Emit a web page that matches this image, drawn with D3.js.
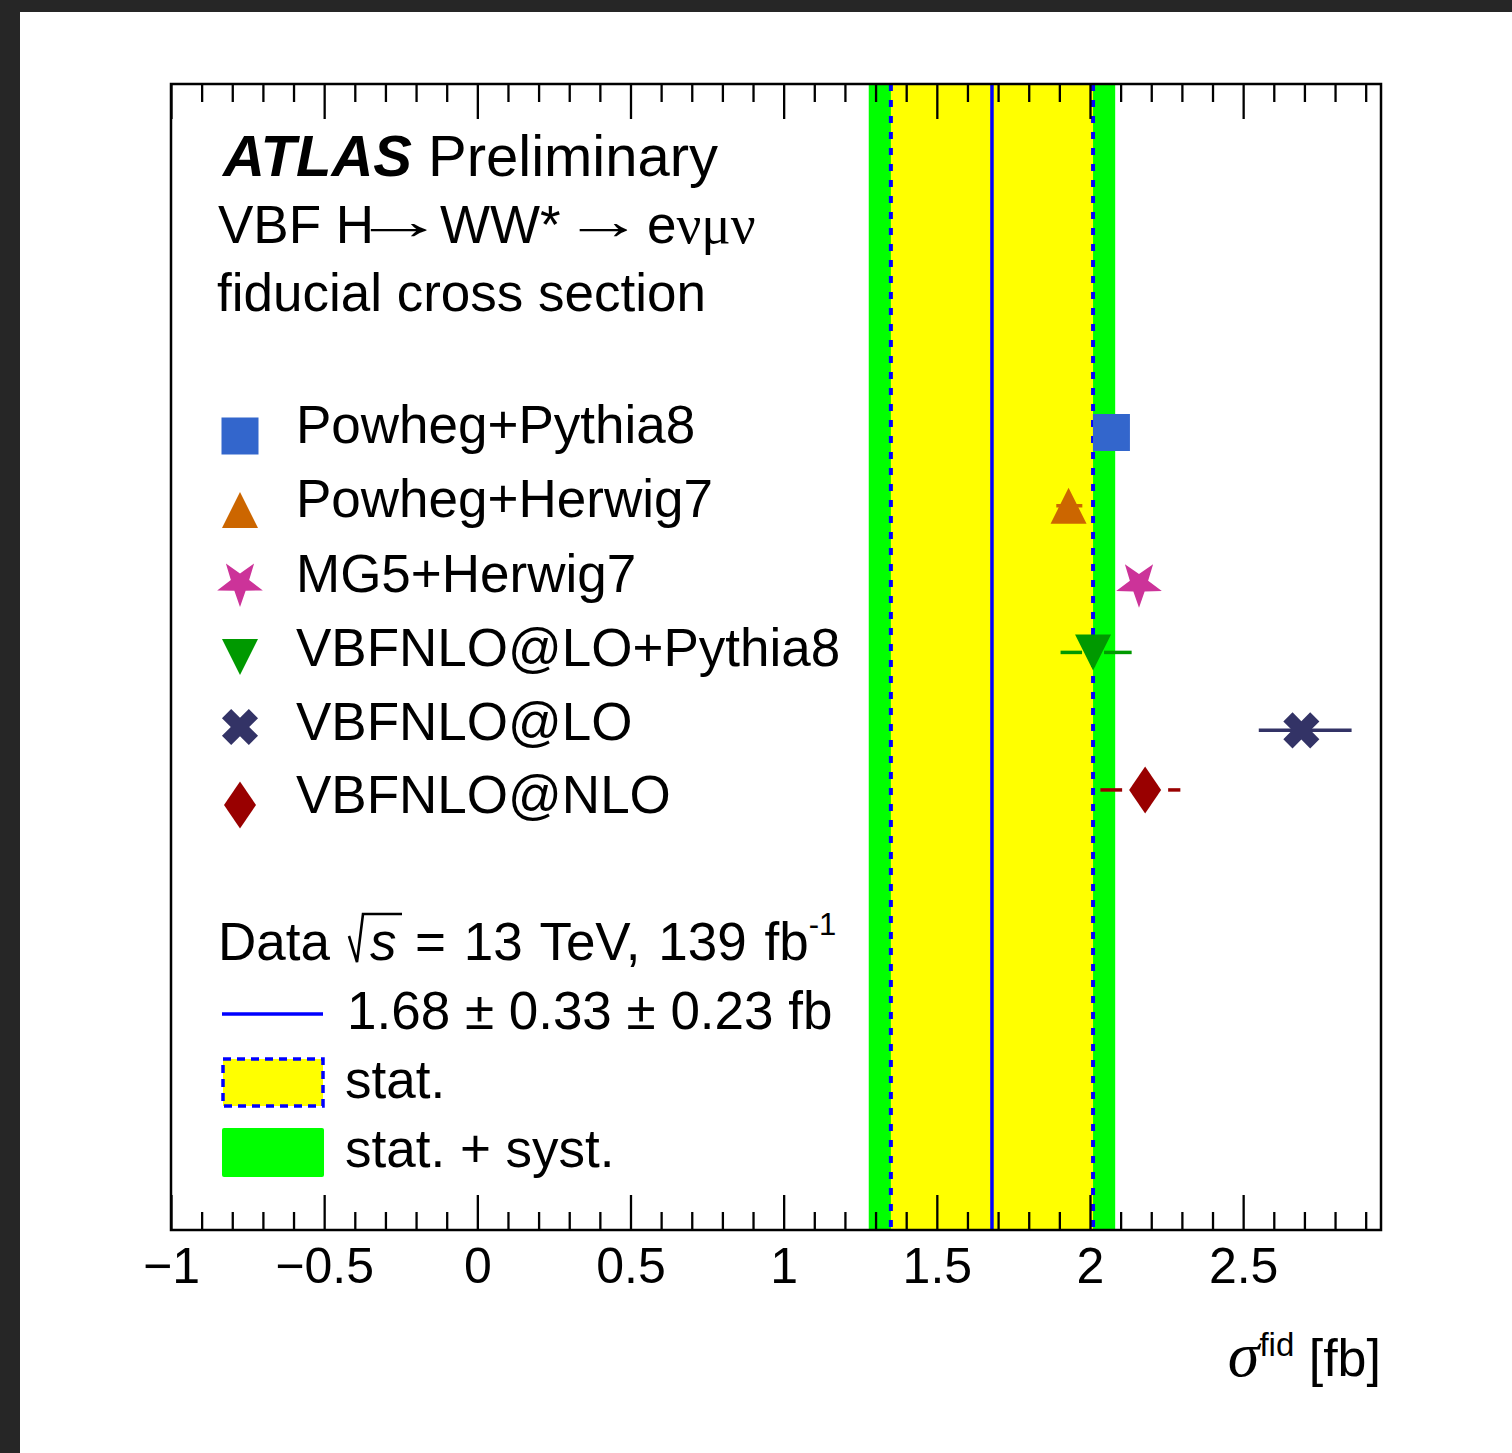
<!DOCTYPE html>
<html>
<head>
<meta charset="utf-8">
<script src="https://cdn.jsdelivr.net/npm/d3@7"></script>
<style>
  html, body { margin: 0; padding: 0; background: #ffffff; }
  svg { display: block; }
  text { font-family: "Liberation Sans", Arial, Helvetica, sans-serif; fill: #000; }
</style>
</head>
<body>
<svg id="chart" width="1512" height="1453"></svg>
<script>
// ---------------- data ----------------
const generators = ["Powheg+Pythia8", "Powheg+Herwig7", "MG5+Herwig7", "VBFNLO@LO+Pythia8", "VBFNLO@LO", "VBFNLO@NLO"];
const predValues = [2.07, 1.93, 2.16, 2.01, 2.69, 2.18];
const predErrLow = [0.03, 0.04, 0.03, 0.106, 0.139, 0.146];
const predErrHigh = [0.03, 0.045, 0.03, 0.126, 0.164, 0.115];
const predRowPos = [0.696, 0.632, 0.564, 0.504, 0.436, 0.384];   // vertical placement on the hidden y axis (0 = bottom, 1 = top)
const dataValue = [1.68];
const statError = [0.33];
const systError = [0.23];
const xMajorTicks = [-1, -0.5, 0, 0.5, 1, 1.5, 2, 2.5];
const xDomain = [-1, 2.95];

// ---------------- styles ----------------
const markerShapes = ["square", "triangleUp", "star", "triangleDown", "cross", "diamond"];
const markerColors = ["#3366cc", "#cc6600", "#cc3399", "#009900", "#333366", "#990000"];
const barGaps = [0, 0, 0, 11, 0, 23];

const svg = d3.select("#chart");
const W = 1512, H = 1453;
const plot = { left: 171, right: 1381, top: 84, bottom: 1230 };

// page background + dark viewer border
svg.append("rect").attr("x", 0).attr("y", 0).attr("width", W).attr("height", H).attr("fill", "#ffffff");
svg.append("rect").attr("x", 0).attr("y", 0).attr("width", W).attr("height", 12).attr("fill", "#262626");
svg.append("rect").attr("x", 0).attr("y", 0).attr("width", 20).attr("height", H).attr("fill", "#262626");

const x = d3.scaleLinear().domain(xDomain).range([plot.left, plot.right]);
const y = d3.scaleLinear().domain([0, 1]).range([plot.bottom, plot.top]);

// ---------------- bands ----------------
const total = Math.sqrt(statError[0] ** 2 + systError[0] ** 2);
svg.append("rect")
  .attr("x", x(dataValue[0] - total)).attr("y", plot.top)
  .attr("width", x(dataValue[0] + total) - x(dataValue[0] - total))
  .attr("height", plot.bottom - plot.top)
  .attr("fill", "#00ff00");
svg.append("rect")
  .attr("x", x(dataValue[0] - statError[0])).attr("y", plot.top)
  .attr("width", x(dataValue[0] + statError[0]) - x(dataValue[0] - statError[0]))
  .attr("height", plot.bottom - plot.top)
  .attr("fill", "#ffff00");
[dataValue[0] - statError[0], dataValue[0] + statError[0]].forEach(v => {
  svg.append("line")
    .attr("x1", x(v)).attr("x2", x(v)).attr("y1", plot.top).attr("y2", plot.bottom)
    .attr("stroke", "#0000ff").attr("stroke-width", 4).attr("stroke-dasharray", "7,9");
});
svg.append("line")
  .attr("x1", x(dataValue[0])).attr("x2", x(dataValue[0])).attr("y1", plot.top).attr("y2", plot.bottom)
  .attr("stroke", "#0000ff").attr("stroke-width", 3.5);

// ---------------- axes ----------------
const minorTicks = d3.range(-10, 30).filter(i => i % 5 !== 0).map(i => i / 10);
const fmt = d => (d < 0 ? "\u2212" + Math.abs(d) : String(d));

const gBottom = svg.append("g").attr("transform", `translate(0,${plot.bottom})`)
  .call(d3.axisBottom(x).tickValues(xMajorTicks).tickSize(-35).tickFormat(fmt));
gBottom.select(".domain").remove();
gBottom.selectAll(".tick line").attr("stroke", "#000").attr("stroke-width", 2.3);
gBottom.selectAll(".tick text")
  .attr("y", 53).attr("dy", 0)
  .style("font-family", "'Liberation Sans', Arial, sans-serif")
  .style("font-size", "50px").attr("fill", "#000");

const gBottomMinor = svg.append("g").attr("transform", `translate(0,${plot.bottom})`)
  .call(d3.axisBottom(x).tickValues(minorTicks).tickSize(-18).tickFormat(""));
gBottomMinor.select(".domain").remove();
gBottomMinor.selectAll(".tick line").attr("stroke", "#000").attr("stroke-width", 2.3);

const gTop = svg.append("g").attr("transform", `translate(0,${plot.top})`)
  .call(d3.axisTop(x).tickValues(xMajorTicks).tickSize(-35).tickFormat(""));
gTop.select(".domain").remove();
gTop.selectAll(".tick line").attr("stroke", "#000").attr("stroke-width", 2.3);

const gTopMinor = svg.append("g").attr("transform", `translate(0,${plot.top})`)
  .call(d3.axisTop(x).tickValues(minorTicks).tickSize(-18).tickFormat(""));
gTopMinor.select(".domain").remove();
gTopMinor.selectAll(".tick line").attr("stroke", "#000").attr("stroke-width", 2.3);

// frame
svg.append("rect")
  .attr("x", plot.left).attr("y", plot.top)
  .attr("width", plot.right - plot.left).attr("height", plot.bottom - plot.top)
  .attr("fill", "none").attr("stroke", "#000").attr("stroke-width", 2.5);

// ---------------- markers ----------------
function markerPath(shape, cx, cy) {
  const p = d3.path();
  if (shape === "square") {
    const h = 18.5;
    p.rect(cx - h, cy - h, 2 * h, 2 * h);
  } else if (shape === "triangleUp") {
    p.moveTo(cx, cy - 18); p.lineTo(cx + 18, cy + 18); p.lineTo(cx - 18, cy + 18); p.closePath();
  } else if (shape === "triangleDown") {
    p.moveTo(cx, cy + 18); p.lineTo(cx + 18, cy - 18); p.lineTo(cx - 18, cy - 18); p.closePath();
  } else if (shape === "star") {
    const R = 24, r = 9.6;
    for (let k = 0; k < 10; k++) {
      const a = Math.PI / 2 + k * Math.PI / 5;
      const rad = k % 2 === 0 ? R : r;
      const px = cx + rad * Math.cos(a), py = cy + rad * Math.sin(a);
      if (k === 0) p.moveTo(px, py); else p.lineTo(px, py);
    }
    p.closePath();
  } else if (shape === "cross") {
    const a = 19, t = 6.5;
    const pts = [[t, t], [a, t], [a, -t], [t, -t], [t, -a], [-t, -a], [-t, -t], [-a, -t], [-a, t], [-t, t], [-t, a], [t, a]];
    const c = Math.SQRT1_2;
    pts.forEach(([u, v], i) => {
      const px = cx + (u - v) * c, py = cy + (u + v) * c;
      if (i === 0) p.moveTo(px, py); else p.lineTo(px, py);
    });
    p.closePath();
  } else if (shape === "diamond") {
    p.moveTo(cx, cy - 23.5); p.lineTo(cx + 16, cy); p.lineTo(cx, cy + 23.5); p.lineTo(cx - 16, cy); p.closePath();
  }
  return p.toString();
}

const points = generators.map((g, i) => ({
  name: g, value: predValues[i], lo: predErrLow[i], hi: predErrHigh[i], row: predRowPos[i],
  shape: markerShapes[i], color: markerColors[i], gap: barGaps[i]
}));

const gPts = svg.append("g");
points.forEach(d => {
  const cx = x(d.value), cy = y(d.row);
  const lo = x(d.value - d.lo), hi = x(d.value + d.hi);
  if (cx - d.gap > lo) {
    gPts.append("line").attr("x1", lo).attr("x2", cx - d.gap).attr("y1", cy).attr("y2", cy)
      .attr("stroke", d.color).attr("stroke-width", 3.5);
  }
  if (cx + d.gap < hi) {
    gPts.append("line").attr("x1", cx + d.gap).attr("x2", hi).attr("y1", cy).attr("y2", cy)
      .attr("stroke", d.color).attr("stroke-width", 3.5);
  }
  gPts.append("path").attr("d", markerPath(d.shape, cx, cy)).attr("fill", d.color);
});

// ---------------- header text ----------------
const t1 = svg.append("text").attr("x", 223).attr("y", 176).style("font-size", "58px");
t1.append("tspan").text("ATLAS").style("font-weight", "bold").style("font-style", "italic");
t1.append("tspan").attr("x", 428).text("Preliminary");

const serif = "'Liberation Serif', 'DejaVu Serif', serif";
const t2 = svg.append("text").attr("y", 243).style("font-size", "53px");
t2.append("tspan").attr("x", 218).text("VBF H");
t2.append("tspan").attr("x", 440).text("WW*");
t2.append("tspan").attr("x", 647).text("e");
t2.append("tspan").style("font-family", serif).style("font-size", "55px").text("\u03bd\u03bc\u03bd");
// long thin arrows (symbol-font style), stretched horizontally to their printed width
[[352, 1.81], [563, 1.54]].forEach(([ax, sx]) => {
  svg.append("text").attr("x", 0).attr("y", 0)
    .attr("transform", `translate(${ax},239) scale(${sx},1)`)
    .style("font-family", serif).style("font-size", "52px").text("\u2192");
});

svg.append("text").attr("x", 217).attr("y", 311).style("font-size", "53px").text("fiducial cross section");

// ---------------- legend (predictions) ----------------
const legendTextY = [443, 517, 592, 666, 740, 813];
const legendMarkY = [436, 510, 583, 657, 727, 805];
points.forEach((d, i) => {
  svg.append("path").attr("d", markerPath(d.shape, 240, legendMarkY[i])).attr("fill", d.color);
  svg.append("text").attr("x", 296).attr("y", legendTextY[i]).style("font-size", "53px").text(d.name);
});

// ---------------- legend (data) ----------------
svg.append("text").attr("x", 218).attr("y", 960).style("font-size", "53px").text("Data");
svg.append("path").attr("d", "M349,936 L357,962 L363,914 L402,914")
  .attr("fill", "none").attr("stroke", "#000").attr("stroke-width", 2.6).attr("stroke-linejoin", "miter");
svg.append("text").attr("x", 370).attr("y", 960).style("font-size", "53px").style("font-style", "italic").text("s");
const tData = svg.append("text").attr("x", 415).attr("y", 960).style("font-size", "53px").style("word-spacing", "3px");
tData.append("tspan").text(`= 13 TeV, 139 fb`);
tData.append("tspan").attr("dy", -25).style("font-size", "31px").text("-1");

svg.append("line").attr("x1", 222).attr("x2", 323).attr("y1", 1014).attr("y2", 1014)
  .attr("stroke", "#0000ff").attr("stroke-width", 3.5);
svg.append("text").attr("x", 347).attr("y", 1029).style("font-size", "53px")
  .text(`${dataValue[0].toFixed(2)} \u00b1 ${statError[0].toFixed(2)} \u00b1 ${systError[0].toFixed(2)} fb`);

svg.append("rect").attr("x", 223).attr("y", 1059).attr("width", 100).attr("height", 47)
  .attr("fill", "#ffff00").attr("stroke", "#0000ff").attr("stroke-width", 3.5).attr("stroke-dasharray", "8,6");
svg.append("text").attr("x", 345).attr("y", 1098).style("font-size", "53px").text("stat.");

svg.append("rect").attr("x", 222).attr("y", 1128).attr("width", 102).attr("height", 49).attr("rx", 2)
  .attr("fill", "#00ff00");
svg.append("text").attr("x", 345).attr("y", 1167).style("font-size", "53px").text("stat. + syst.");

// ---------------- axis title ----------------
const tAx = svg.append("text").attr("x", plot.right).attr("y", 1376).attr("text-anchor", "end").style("font-size", "52px");
tAx.append("tspan").style("font-family", "'Liberation Serif', 'Times New Roman', serif").style("font-style", "italic").style("font-size", "64px").text("\u03c3");
tAx.append("tspan").attr("dy", -20).style("font-size", "33px").text("fid");
tAx.append("tspan").attr("dy", 20).text(" [fb]");
</script>
</body>
</html>
